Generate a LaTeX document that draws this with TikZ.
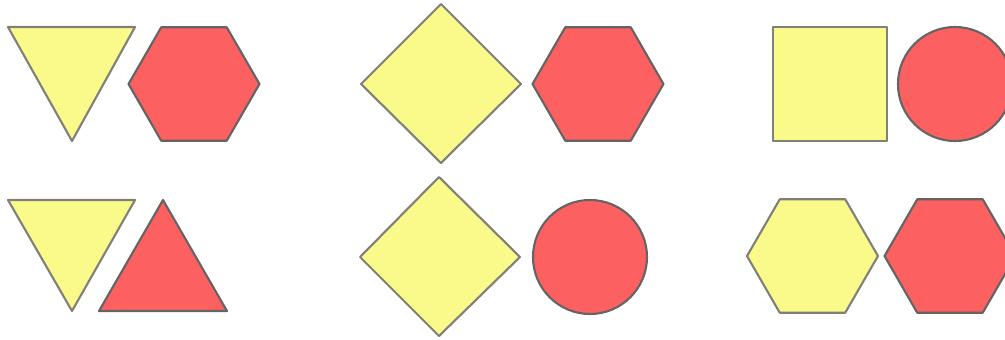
\documentclass[tikz,border=0pt]{standalone}
\usepackage{tikz}
\definecolor{shapeYellow}{RGB}{250, 250, 138}
\definecolor{shapeRed}{RGB}{253, 96, 96}
\definecolor{shapeGrey}{RGB}{128, 128, 120}
\definecolor{shapeDarkGrey}{RGB}{100, 100, 100}

\begin{document}
\begin{tikzpicture}[
  x=0.01cm, y=-0.01cm,
  yellowshape/.style={
    draw=shapeGrey,
    fill=shapeYellow,
    line width=0.6pt,
    line join=round
  },
  redshape/.style={
    draw=shapeDarkGrey,
    fill=shapeRed,
    line width=0.6pt,
    line join=round
  }
]
  \useasboundingbox (0,0) rectangle (1005,339);
  \begin{scope}
  \clip (0,0) rectangle (1005,339);

  % top row
  \draw[yellowshape] (8,27) -- (135,27) -- (72,141) -- cycle;
  \draw[redshape] (194,84) ++(0:65.5) -- ++(120:65.5) -- ++(180:65.5) -- ++(240:65.5)
    -- ++(300:65.5) -- ++(0:65.5) -- cycle;
  \draw[yellowshape] (441,4) -- (521,84) -- (441,163) -- (361,84) -- cycle;
  \draw[redshape] (598,84) ++(0:65.5) -- ++(120:65.5) -- ++(180:65.5) -- ++(240:65.5)
    -- ++(300:65.5) -- ++(0:65.5) -- cycle;
  \draw[yellowshape] (773,27) rectangle (887,141);
  \draw[redshape] (955,84) circle[radius=57];

  % bottom row
  \draw[yellowshape] (8,200) -- (135,200) -- (72,311) -- cycle;
  \draw[redshape] (163,200) -- (227,311) -- (99,311) -- cycle;
  \draw[yellowshape] (439,177) -- (520,257) -- (439,336) -- (360,257) -- cycle;
  \draw[redshape] (590,257) circle[radius=57];
  \draw[yellowshape] (812.5,256) ++(0:65.5) -- ++(120:65.5) -- ++(180:65.5) -- ++(240:65.5)
    -- ++(300:65.5) -- ++(0:65.5) -- cycle;
  \draw[redshape] (950,256) ++(0:65.5) -- ++(120:65.5) -- ++(180:65.5) -- ++(240:65.5)
    -- ++(300:65.5) -- ++(0:65.5) -- cycle;
  \end{scope}
\end{tikzpicture}
\end{document}
